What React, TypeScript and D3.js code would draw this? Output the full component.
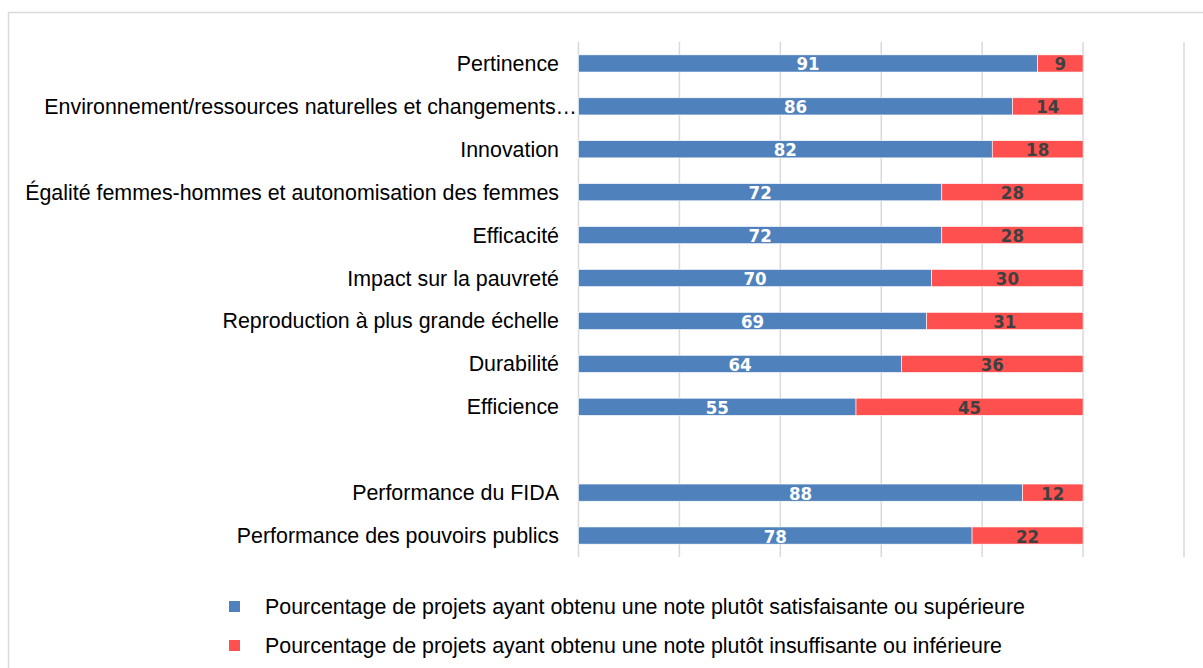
import React from "react";
import * as d3 from "d3";

const categories = [
  "Pertinence",
  "Environnement/ressources naturelles et changements…",
  "Innovation",
  "Égalité femmes-hommes et autonomisation des femmes",
  "Efficacité",
  "Impact sur la pauvreté",
  "Reproduction à plus grande échelle",
  "Durabilité",
  "Efficience",
  "",
  "Performance du FIDA",
  "Performance des pouvoirs publics",
];
const satisfaisant = [91, 86, 82, 72, 72, 70, 69, 64, 55, null, 88, 78];
const insuffisant = [9, 14, 18, 28, 28, 30, 31, 36, 45, null, 12, 22];
const xTicks = [0, 20, 40, 60, 80, 100, 120];
const seriesNames = [
  "Pourcentage de projets ayant obtenu une note plutôt satisfaisante ou supérieure",
  "Pourcentage de projets ayant obtenu une note plutôt insuffisante ou inférieure",
];
const colors = ["#4F81BD", "#FF5050"];

const W = 1203;
const H = 668;

export default function App() {
  const x = d3.scaleLinear().domain([0, 120]).range([578.5, 1184]);
  const y = d3
    .scaleBand<number>()
    .domain(categories.map((_, i) => i))
    .range([42, 557])
    .paddingInner(0.6)
    .paddingOuter(0.3);
  const bw = y.bandwidth();
  const labelFont = "'Liberation Sans', Arial, sans-serif";
  const valFont = "'DejaVu Sans Condensed', 'DejaVu Sans', sans-serif";
  const fs = 21.4;

  return (
    <svg
      width={W}
      height={H}
      style={{ position: "absolute", left: 0, top: 0, background: "#fff" }}
    >
      <rect x={8.5} y={12.5} width={1300} height={800} fill="#fff" stroke="#D9D9D9" strokeWidth={1.5} />
      {xTicks.map((t) => (
        <line key={t} x1={x(t)} x2={x(t)} y1={42} y2={557} stroke="#D9D9D9" strokeWidth={1.5} />
      ))}
      {categories.map((c, i) => {
        const s = satisfaisant[i];
        const f = insuffisant[i];
        const yy = y(i)!;
        const cy = yy + bw / 2;
        return (
          <g key={i}>
            {c !== "" && (
              <text
                x={c.endsWith("…") ? 577 : 559}
                y={cy}
                dy="0.35em"
                textAnchor="end"
                fontFamily={labelFont}
                fontSize={fs}
                fill="#000"
              >
                {c}
              </text>
            )}
            {s != null && f != null && (
              <>
                <rect x={x(0)} y={yy} width={x(s) - x(0)} height={bw} fill={colors[0]} stroke="#fff" strokeWidth={0.6} />
                <rect x={x(s)} y={yy} width={x(s + f) - x(s)} height={bw} fill={colors[1]} stroke="#fff" strokeWidth={0.6} />
                <text x={(x(0) + x(s)) / 2} y={cy + 7} textAnchor="middle" fontFamily={valFont} fontWeight="bold" fontSize={18.5} fill="#fff">
                  {s}
                </text>
                <text x={(x(s) + x(s + f)) / 2} y={cy + 7} textAnchor="middle" fontFamily={valFont} fontWeight="bold" fontSize={18.5} fill="#404040">
                  {f}
                </text>
              </>
            )}
          </g>
        );
      })}
      {seriesNames.map((n, i) => (
        <g key={n} transform={`translate(229, ${601 + i * 39})`}>
          <rect x={0} y={0} width={11} height={11} fill={colors[i]} />
          <text x={36} y={5.5} dy="0.35em" fontFamily={labelFont} fontSize={fs} fill="#000">
            {n}
          </text>
        </g>
      ))}
    </svg>
  );
}
